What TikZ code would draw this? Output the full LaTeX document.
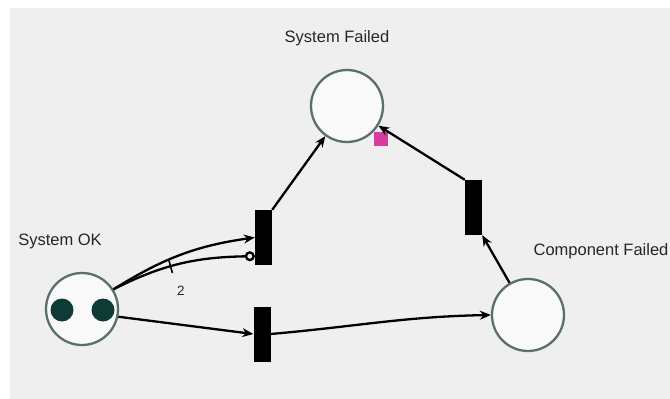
\documentclass[tikz,border=0pt]{standalone}
\usepackage{fontspec}
\setmainfont{Liberation Sans}
\usetikzlibrary{arrows.meta,decorations.markings}
\definecolor{bgGray}{HTML}{EFEFEF}
\definecolor{placeRim}{HTML}{5A6E6E}
\definecolor{tokenGreen}{HTML}{0E3B36}
\definecolor{markPink}{HTML}{D63C9E}

\begin{document}
\begin{tikzpicture}[x=1pt,y=1pt]
  \tikzset{
    place/.style={circle,draw=placeRim,line width=2.3pt,fill=white!60!bgGray,
      minimum size=72pt,inner sep=0pt},
    token/.style={circle,fill=tokenGreen,minimum size=23pt,inner sep=0pt},
    transition/.style={rectangle,fill=black,minimum width=17pt,
      minimum height=55pt,inner sep=0pt},
    arc/.style={line width=2.3pt,-{Stealth[length=11pt,width=9pt]}},
    inhibitor/.style={line width=2.3pt,-{Circle[open,length=10pt,line width=2.3pt]}},
    tag/.style={font=\fontsize{16.5}{19}\selectfont,text=black!85,inner sep=0pt},
    weighted/.style={postaction={decorate,decoration={markings,
      mark=at position #1 with {\draw[-,line width=1.6pt] (0,-7pt) -- (0,7pt);}}}}
  }
  \useasboundingbox (0,0) rectangle (670,-399);
  \fill[bgGray] (10,-8) rectangle (670,-399);

  % places
  \node[place] (ok) at (82,-309) {};
  \node[token] (tokA) at (62,-310) {};
  \node[token] (tokB) at (103,-310) {};
  \node[place] (failed) at (347,-106) {};
  \node[place] (comp) at (528,-315) {};

  % transitions
  \node[transition] (t1) at (263.5,-237.5) {};
  \node[transition] (t2) at (262,-334) {};
  \node[transition] (t3) at (473.5,-207.5) {};

  % names
  \node[tag] (okname) at (60,-241) {System OK};
  \node[tag] (failname) at (337,-38) {System Failed};
  \node[tag] (compname) at (601,-251) {Component Failed};
  \node[tag,font=\fontsize{13.5}{15}\selectfont] (weight) at (181,-291) {2};

  \node[fill=markPink,minimum size=14pt,inner sep=0pt] (sel) at (381,-139) {};

  % arcs
  \draw[arc] (ok.32) to[out=32,in=188] (t1.west);
  \draw[inhibitor,weighted=0.42] (ok.32) to[out=27,in=181] (t1.245);
  \draw[arc] (ok.-12) -- (t2.west);
  \draw[arc] (t2.east) to[out=5,in=181] (comp.west);
  \draw[arc] (t1.north east) -- (failed);
  \draw[arc] (comp) -- (t3.south east);
  \draw[arc] (t3.north west) -- (failed);
\end{tikzpicture}
\end{document}
